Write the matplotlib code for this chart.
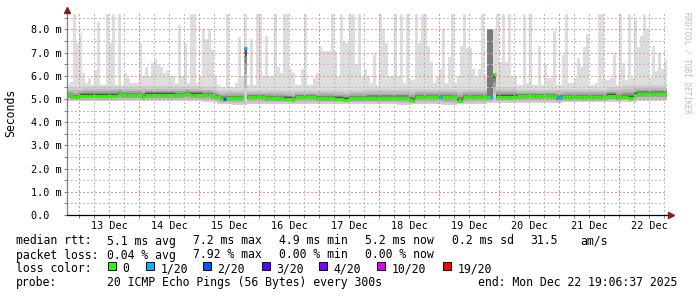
import numpy as np
import matplotlib
matplotlib.use('Agg')
import matplotlib.pyplot as plt
from matplotlib.patches import Rectangle
from matplotlib.ticker import MultipleLocator, FixedLocator, NullFormatter, FuncFormatter

plt.rcParams['font.family'] = 'DejaVu Sans Mono'

W, H = 697, 297

# eje de tiempo: horas desde Dec 12 19:06:37, bins de 72 min
bin_h = 1.2
first_midnight = 4.89
day_labels = ['13 Dec', '14 Dec', '15 Dec', '16 Dec', '17 Dec',
              '18 Dec', '19 Dec', '20 Dec', '21 Dec', '22 Dec']

# mediana (ms) por bin
median_ms = [
    5.16, 5.12, 5.07, 5.07, 5.15, 5.15, 5.15, 5.15, 5.15, 5.15,
    5.15, 5.15, 5.15, 5.15, 5.15, 5.15, 5.15, 5.22, 5.16, 5.16,
    5.16, 5.16, 5.16, 5.16, 5.16, 5.08, 5.19, 5.19, 5.19, 5.19,
    5.19, 5.19, 5.19, 5.19, 5.19, 5.19, 5.16, 5.16, 5.16, 5.22,
    5.22, 5.19, 5.19, 5.19, 5.19, 5.19, 5.19, 5.19, 5.16, 5.08,
    5.07, 5.00, 5.00, 5.04, 5.04, 5.04, 5.04, 5.04, 5.04, 7.20,
    5.07, 5.07, 5.07, 5.07, 5.07, 5.07, 5.04, 5.04, 5.04, 5.04,
    5.04, 5.04, 5.01, 5.01, 5.01, 4.94, 5.07, 5.07, 5.07, 5.07,
    5.07, 5.07, 5.07, 5.04, 5.04, 5.04, 5.04, 5.04, 5.04, 5.01,
    5.01, 5.01, 4.97, 4.97, 5.04, 5.04, 5.04, 5.04, 5.04, 5.04,
    5.04, 5.04, 5.04, 5.04, 5.04, 5.04, 5.04, 5.04, 5.04, 5.04,
    5.04, 5.04, 5.04, 5.04, 4.97, 4.93, 5.07, 5.07, 5.07, 5.07,
    5.07, 5.07, 5.07, 5.07, 5.07, 5.07, 5.07, 5.07, 5.07, 5.07,
    4.93, 4.93, 5.07, 5.07, 5.07, 5.07, 5.07, 5.07, 5.07, 5.07,
    5.07, 5.07, 6.08, 5.10, 5.10, 5.10, 5.10, 5.10, 5.10, 5.10,
    5.12, 5.12, 5.12, 5.12, 5.12, 5.12, 5.12, 5.12, 5.12, 5.12,
    5.12, 5.12, 5.12, 5.04, 5.04, 5.08, 5.08, 5.08, 5.08, 5.08,
    5.08, 5.08, 5.08, 5.08, 5.08, 5.08, 5.08, 5.08, 5.08, 5.08,
    5.15, 5.15, 5.15, 5.07, 5.07, 5.07, 5.07, 5.04, 5.04, 5.19,
    5.22, 5.22, 5.22, 5.22, 5.22, 5.22, 5.22, 5.22, 5.22, 5.22,
]

# ping maximo (ms) por bin
max_ms = [
    5.6, 5.75, 9.0, 7.4, 7.85, 6.1, 5.7, 5.9, 5.6, 6.25,
    8.3, 5.6, 5.6, 9.0, 7.4, 9.0, 5.6, 9.0, 5.6, 6.1,
    5.9, 5.7, 5.7, 5.7, 7.4, 6.0, 6.4, 6.0, 6.55, 6.7,
    6.5, 6.4, 6.1, 6.25, 6.0, 6.0, 5.7, 8.2, 6.0, 7.4,
    5.7, 9.0, 9.0, 5.7, 6.0, 8.0, 7.6, 8.0, 7.1, 6.0,
    5.6, 5.5, 5.5, 9.0, 5.5, 5.5, 5.7, 7.67, 6.0, 9.0,
    5.6, 7.6, 5.6, 9.0, 9.0, 6.0, 7.7, 6.0, 6.0, 9.0,
    6.4, 6.1, 9.0, 9.0, 6.3, 6.1, 5.6, 5.6, 6.3, 9.0,
    5.6, 5.6, 5.9, 6.1, 7.3, 7.05, 7.05, 7.05, 9.0, 7.05,
    6.0, 9.0, 7.5, 7.4, 9.0, 9.0, 6.5, 9.0, 6.0, 6.3,
    6.0, 5.7, 6.94, 5.6, 9.0, 8.0, 7.4, 6.0, 6.0, 9.0,
    6.0, 9.0, 5.7, 9.0, 5.8, 5.8, 9.0, 7.4, 9.0, 9.0,
    7.27, 6.6, 5.7, 6.0, 6.3, 8.0, 5.7, 6.8, 9.0, 5.7,
    6.0, 7.3, 9.0, 7.2, 7.2, 6.3, 6.0, 6.3, 9.0, 6.0,
    8.0, 8.0, 8.0, 9.0, 6.6, 9.0, 6.6, 9.0, 6.0, 6.0,
    5.6, 5.6, 9.0, 5.7, 9.0, 5.6, 5.6, 7.27, 5.6, 6.5,
    5.9, 5.9, 7.94, 5.6, 5.6, 6.9, 9.0, 5.7, 5.7, 5.9,
    6.78, 6.37, 7.23, 7.8, 5.6, 5.6, 5.7, 9.0, 9.0, 5.8,
    5.8, 5.9, 7.0, 5.6, 9.0, 6.55, 5.8, 9.0, 5.9, 8.4,
    7.24, 7.7, 9.0, 8.0, 5.9, 7.3, 6.2, 7.0, 6.3, 6.7,
]

# borde del humo oscuro (cada 6 h)
smoke_hi = [
    5.50, 5.55, 5.55, 5.55, 5.55, 5.55, 5.55, 5.55, 5.55, 5.50,
    5.40, 5.40, 5.40, 5.40, 5.40, 5.40, 5.40, 5.40, 5.40, 5.40,
    5.45, 5.45, 5.45, 5.45, 5.45, 5.45, 5.45, 5.45, 5.50, 5.50,
    5.45, 5.45, 5.45, 5.45, 5.45, 5.45, 5.50, 5.60, 5.60, 5.60,
]
smoke_lo = [
    4.90, 4.90, 4.90, 4.90, 4.90, 4.90, 4.90, 4.90, 4.90, 4.85,
    4.78, 4.75, 4.80, 4.80, 4.80, 4.80, 4.78, 4.80, 4.80, 4.80,
    4.80, 4.80, 4.75, 4.78, 4.80, 4.75, 4.80, 4.80, 4.82, 4.82,
    4.82, 4.82, 4.82, 4.85, 4.85, 4.85, 4.85, 4.88, 4.90, 4.90,
]

# bins con perdida de paquetes
loss_idx = [52, 59, 124, 141, 163, 164]
loss_cnt = [2, 1, 1, 1, 1, 1]
# bins con pings muy dispersos (columna oscura)
burst_idx = [59, 140, 141, 142]

loss_colors = {0: '#26ff00', 1: '#00b8ff', 2: '#0059ff', 3: '#5e00ff',
               4: '#7e00ff', 10: '#dd00ff', 19: '#ff0000'}
legend_keys = [0, 1, 2, 3, 4, 10, 19]

med = np.array(median_ms)
top = np.array(max_ms)
hi = np.repeat(smoke_hi, 5).astype(float)
lo = np.repeat(smoke_lo, 5).astype(float)
hi = np.maximum(hi, med)
top = np.maximum(top, hi)
loss = np.zeros(len(med), dtype=int)
loss[loss_idx] = loss_cnt
burst = np.zeros(len(med), dtype=bool)
burst[burst_idx] = True

edges = np.arange(len(med) + 1) * bin_h


def ext(a):
    return np.append(a, a[-1])


fig = plt.figure(figsize=(W / 100, H / 100), dpi=100)
ax = fig.add_axes([67 / W, 1 - 215 / H, 600 / W, 200.7 / H])

# humo
ax.fill_between(edges, ext(lo), ext(top), step='post', color='#dddddd', lw=0, zorder=1)
fracs = [1.0, 0.7, 0.45, 0.28, 0.14]
shades = ['#d0d0d0', '#bcbcbc', '#a2a2a2', '#828282', '#505050']
for f, c in zip(fracs, shades):
    ax.fill_between(edges, ext(med - (med - lo) * f), ext(med + (hi - med) * f),
                    step='post', color=c, lw=0, zorder=1.1)

# columnas oscuras
ax.fill_between(edges, 5.05, ext(top), where=ext(burst), step='post',
                color='#7a7a7a', lw=0, zorder=1.2)
ax.fill_between(edges, 5.05, ext(med), where=ext(burst), step='post',
                color='#2a2a2a', lw=0, zorder=1.3)

# cuadricula
midnights = first_midnight + 24 * np.arange(10)
six_h = first_midnight + 6 * np.arange(40)
dot = (0, (1, 2))
for h in six_h:
    is_major = np.any(np.isclose(h, midnights))
    ax.axvline(h, color='#e89090' if is_major else '#bcbcbc', ls=dot, lw=0.75,
               antialiased=False, zorder=2.5)
for k in range(1, 18):
    v = k * 0.5
    ax.axhline(v, color='#e89090' if k % 2 == 0 else '#bcbcbc', ls=dot, lw=0.75,
               antialiased=False, zorder=2.5)

ax.hlines(med, edges[:-1], edges[1:], colors=[loss_colors[k] for k in loss],
          lw=2.2, zorder=3)

ax.set_xlim(0, 240)
ax.set_ylim(0, 8.65)

ax.xaxis.set_major_locator(FixedLocator(midnights))
ax.xaxis.set_minor_locator(FixedLocator(six_h))
ax.xaxis.set_major_formatter(NullFormatter())
ax.yaxis.set_major_locator(MultipleLocator(1))
ax.yaxis.set_minor_locator(MultipleLocator(0.5))
ax.yaxis.set_major_formatter(FuncFormatter(lambda v, p: '0.0  ' if v == 0 else f'{v:.1f} m'))

ax.tick_params(axis='both', which='both', direction='out', length=2.2, width=0.72,
               color='#808080', labelsize=7.3, pad=1.7)

for d, lbl in zip(midnights + 12, day_labels):
    ax.annotate(lbl, xy=(d, 0), xycoords=('data', 'axes fraction'),
                xytext=(0, -9.8), textcoords='offset points',
                ha='center', va='baseline', fontsize=7.3)

for s in ['top', 'right']:
    ax.spines[s].set_visible(False)
ax.spines['left'].set_color('#808080')
ax.spines['bottom'].set_color('black')
for s in ['left', 'bottom']:
    ax.spines[s].set_linewidth(0.9)
    ax.spines[s].set_zorder(4)

ax.plot(0, 1.02, marker='^', ms=5, color='#8b1a1a', transform=ax.transAxes, clip_on=False, zorder=5)
ax.plot(1.006, 0, marker='>', ms=5, color='#8b1a1a', transform=ax.transAxes, clip_on=False, zorder=5)

fig.text(11 / W, 1 - 113 / H, 'Seconds', rotation=90, ha='center', va='center', fontsize=8.3)
fig.text(687 / W, 1 - 12 / H, 'RRDTOOL / TOBI OETIKER', rotation=270, ha='center', va='top',
         fontsize=5.5, color='#bdbdbd')


def put(x, y, s, **kw):
    fig.text(x / W, 1 - y / H, s, ha='left', va='baseline', fontsize=8.3, **kw)


line1 = [(16, 'median rtt:'), (107, '5.1 ms avg'), (193, '7.2 ms max'), (279, '4.9 ms min'),
         (365, '5.2 ms now'), (452, '0.2 ms sd'), (530, '31.5'), (580, 'am/s')]
line2 = [(16, 'packet loss:'), (107, '0.04 % avg'), (193, '7.92 % max'), (279, '0.00 % min'),
         (365, '0.00 % now')]
for x, s in line1:
    put(x, 244.5, s)
for x, s in line2:
    put(x, 258.5, s)

put(16, 272, 'loss color:')
sq_x = [108, 146, 203, 262, 319, 377, 443]
sq_lbl = ['0', '1/20', '2/20', '3/20', '4/20', '10/20', '19/20']
for x, k, lbl in zip(sq_x, legend_keys, sq_lbl):
    fig.add_artist(Rectangle((x / W, 1 - 269.5 / H), 7.5 / W, 7.5 / H,
                             transform=fig.transFigure, facecolor=loss_colors[k],
                             edgecolor='black', lw=0.7))
    put(x + 14.5, 272, lbl)

put(16, 286, 'probe:')
put(107, 286, '20 ICMP Echo Pings (56 Bytes) every 300s')
put(478, 286, 'end: Mon Dec 22 19:06:37 2025')

fig.savefig('out.png', dpi=100, facecolor='white')
